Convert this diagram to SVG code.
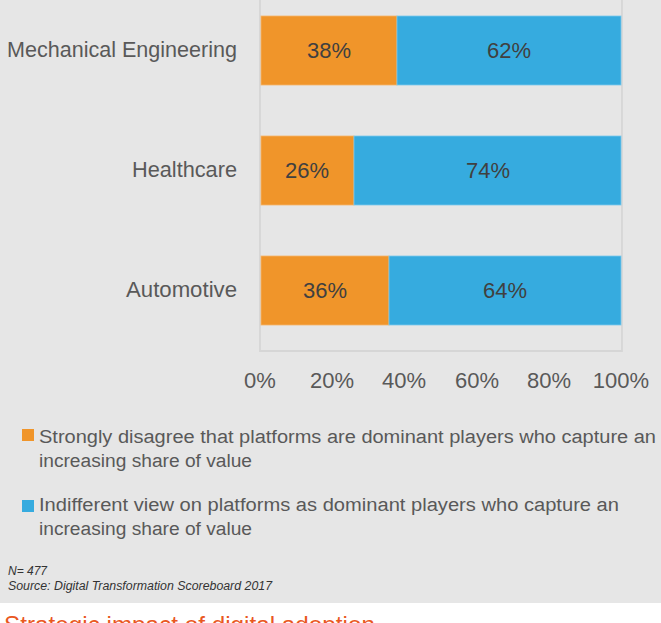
<svg xmlns="http://www.w3.org/2000/svg" width="661" height="623" viewBox="0 0 661 623">
<style>
.cat{font-family:"Liberation Sans",Arial,sans-serif;font-size:22px;fill:#595959;text-anchor:end}
.val{font-family:"Liberation Sans",Arial,sans-serif;font-size:22px;fill:#404040;text-anchor:middle}
.tick{font-family:"Liberation Sans",Arial,sans-serif;font-size:22px;fill:#595959;text-anchor:middle}
.leg{font-family:"Liberation Sans",Arial,sans-serif;font-size:18px;fill:#595959}
.note{font-family:"Liberation Sans",Arial,sans-serif;font-size:12px;font-style:italic;fill:#333333}
.title{font-family:"Liberation Sans",Arial,sans-serif;font-size:24px;fill:#e9581f}
.o{fill:#f0952a;stroke:#f5b46a;stroke-width:0.8}
.b{fill:#36abdf;stroke:#7cc8ea;stroke-width:0.8}
</style>
<rect x="0" y="0" width="661" height="603" fill="#e6e6e6"/>
<rect x="0" y="603" width="661" height="20" fill="#ffffff"/>
<g id="frame">
<path d="M260,0 V351 H622 V0" fill="none" stroke="#d6d6d6" stroke-width="1.8"/>
</g>
<g id="mechanical">
<text class="cat" x="237" y="57" textLength="230" lengthAdjust="spacingAndGlyphs">Mechanical Engineering</text>
<rect class="o" x="261" y="16" width="136" height="69"/>
<rect class="b" x="397" y="16" width="224" height="69"/>
<text class="val" x="329" y="58">38%</text>
<text class="val" x="509" y="58">62%</text>
</g>
<g id="healthcare">
<text class="cat" x="237" y="177" textLength="105" lengthAdjust="spacingAndGlyphs">Healthcare</text>
<rect class="o" x="261" y="136" width="93" height="69"/>
<rect class="b" x="354" y="136" width="267" height="69"/>
<text class="val" x="307" y="178">26%</text>
<text class="val" x="488" y="178">74%</text>
</g>
<g id="automotive">
<text class="cat" x="237" y="297" textLength="111" lengthAdjust="spacingAndGlyphs">Automotive</text>
<rect class="o" x="261" y="256" width="128" height="69"/>
<rect class="b" x="389" y="256" width="232" height="69"/>
<text class="val" x="325" y="298">36%</text>
<text class="val" x="505" y="298">64%</text>
</g>
<g id="axis">
<text class="tick" x="260" y="388">0%</text>
<text class="tick" x="332" y="388">20%</text>
<text class="tick" x="404" y="388">40%</text>
<text class="tick" x="477" y="388">60%</text>
<text class="tick" x="549" y="388">80%</text>
<text class="tick" x="621" y="388">100%</text>
</g>
<g id="legend">
<rect x="22" y="429" width="12" height="12" fill="#f0952a"/>
<text class="leg" x="39" y="443" textLength="617" lengthAdjust="spacingAndGlyphs">Strongly disagree that platforms are dominant players who capture an</text>
<text class="leg" x="39" y="467" textLength="213" lengthAdjust="spacingAndGlyphs">increasing share of value</text>
<rect x="22" y="500" width="12" height="12" fill="#36abdf"/>
<text class="leg" x="39" y="511" textLength="580" lengthAdjust="spacingAndGlyphs">Indifferent view on platforms as dominant players who capture an</text>
<text class="leg" x="39" y="535" textLength="213" lengthAdjust="spacingAndGlyphs">increasing share of value</text>
</g>
<g id="notes">
<text class="note" x="8" y="575">N= 477</text>
<text class="note" x="8" y="590" textLength="264" lengthAdjust="spacingAndGlyphs">Source: Digital Transformation Scoreboard 2017</text>
</g>
<text class="title" x="4" y="633" textLength="371" lengthAdjust="spacingAndGlyphs">Strategic impact of digital adoption</text>
</svg>
